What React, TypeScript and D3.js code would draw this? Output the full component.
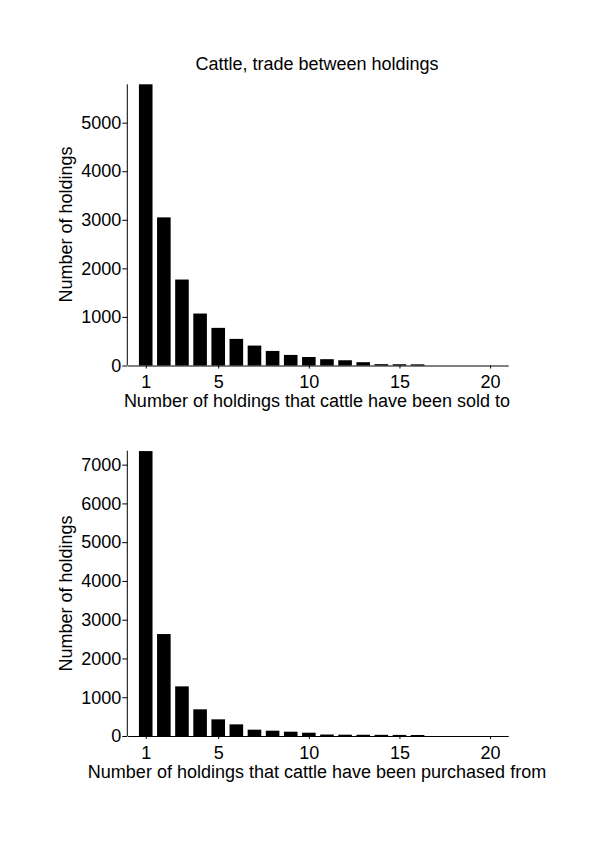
import React, { useEffect, useRef } from 'react';
import * as d3 from 'd3';

// number of trading partners (1..20)
const partners = d3.range(1, 21);

// top panel: holdings that have sold cattle to n other holdings
const soldTo = [5790, 3050, 1770, 1070, 775, 548, 410, 300, 218, 175, 130, 108, 68, 28, 26, 24, 0, 0, 0, 0];
// bottom panel: holdings that have purchased cattle from n other holdings
const purchasedFrom = [7350, 2630, 1280, 688, 430, 300, 163, 137, 111, 85, 38, 34, 32, 30, 28, 26, 0, 0, 0, 0];

const soldTicks = [0, 1000, 2000, 3000, 4000, 5000];
const purchasedTicks = [0, 1000, 2000, 3000, 4000, 5000, 6000, 7000];
const xTicks = [1, 5, 10, 15, 20];

const FONT = '"Liberation Sans", Arial, sans-serif';

const App = () => {
  const svgRef = useRef<SVGSVGElement | null>(null);

  useEffect(() => {
    if (!svgRef.current) return;
    const svg = d3.select(svgRef.current);
    svg.selectAll('*').remove();

    svg.append('text')
      .attr('x', 317)
      .attr('y', 70)
      .attr('text-anchor', 'middle')
      .style('font-family', FONT)
      .style('font-size', '18px')
      .text('Cattle, trade between holdings');

    const panel = (values: number[], yMax: number, ticks: number[], top: number, bottom: number, xLabel: string, yLabelY: number) => {
      const x = d3.scaleLinear().domain([0, 21]).range([127.6, 508.2]);
      const y = d3.scaleLinear().domain([0, yMax]).range([bottom, top]);
      const g = svg.append('g');

      // bars
      const bw = (x(1) - x(0)) * 0.75;
      g.selectAll('rect')
        .data(values)
        .enter()
        .append('rect')
        .attr('x', (d, i) => x(partners[i]) - bw / 2)
        .attr('y', d => y(d))
        .attr('width', bw)
        .attr('height', d => y(0) - y(d))
        .style('fill', '#000');

      // y axis
      const yAxis = g.append('g')
        .attr('transform', `translate(127.3, 0)`)
        .call(d3.axisLeft(y).tickValues(ticks).tickFormat(d3.format('d')).tickSize(5).tickPadding(1).tickSizeOuter(0));
      yAxis.select('.domain').attr('d', `M0,${y(0)}V${top}`);

      // x axis
      const xAxis = g.append('g')
        .attr('transform', `translate(0, ${y(0)})`)
        .call(d3.axisBottom(x).tickValues(xTicks).tickFormat(d3.format('d')).tickSize(3).tickPadding(7).tickSizeOuter(0));

      [yAxis, xAxis].forEach(a => {
        a.selectAll('text').style('font-family', FONT).style('font-size', '18px').attr('fill', '#000');
        a.selectAll('line').attr('stroke', '#000');
        a.select('.domain').attr('stroke', '#000');
      });

      g.append('text')
        .attr('x', 317)
        .attr('y', y(0) + 41.5)
        .attr('text-anchor', 'middle')
        .style('font-family', FONT)
        .style('font-size', '18px')
        .text(xLabel);

      g.append('text')
        .attr('transform', `translate(72, ${yLabelY}) rotate(-90)`)
        .attr('text-anchor', 'middle')
        .style('font-family', FONT)
        .style('font-size', '18px')
        .text('Number of holdings');
    };

    panel(soldTo, 5790, soldTicks, 84.3, 365.5, 'Number of holdings that cattle have been sold to', 224.5);
    panel(purchasedFrom, 7360, purchasedTicks, 450.7, 736, 'Number of holdings that cattle have been purchased from', 593.5);
  }, []);

  return (
    <svg ref={svgRef} width={600} height={849}
      style={{ position: 'absolute', left: 0, top: 0, background: '#fff' }}></svg>
  );
};

export default App;
